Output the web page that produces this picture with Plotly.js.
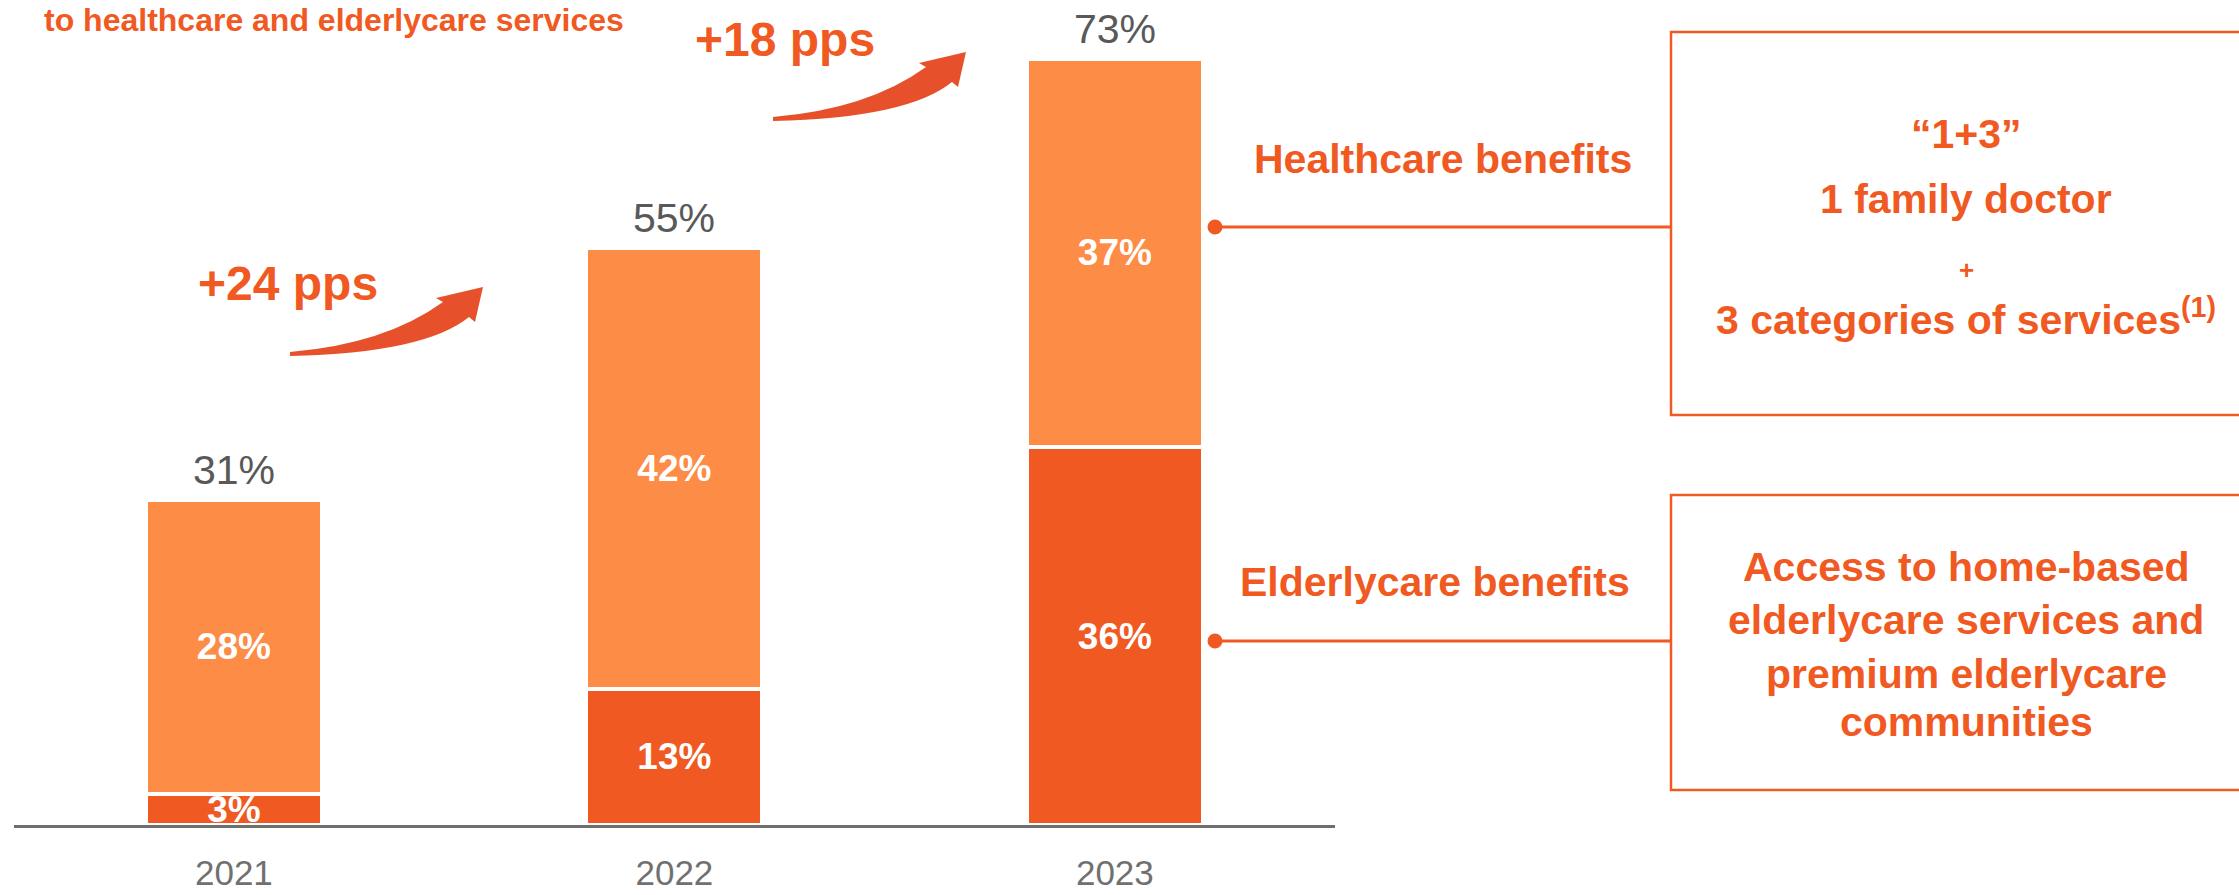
<!DOCTYPE html>
<html>
<head>
<meta charset="utf-8">
<script src="https://cdn.plot.ly/plotly-3.0.1.min.js"></script>
<style>html,body{margin:0;padding:0;background:#fff;}#chart{width:2239px;height:895px;}</style>
</head>
<body>
<div id="chart"></div>
<script>
// ---- data ----
const years = ['2021', '2022', '2023'];
const elderlycare = [3, 13, 36];   // bottom segment (dark orange)
const healthcare = [28, 42, 37];   // top segment (light orange)
const totals = [31, 55, 73];        // labels above the bars
const growthLabels = ['+24 pps', '+18 pps'];
const benefitLabels = ['Healthcare benefits', 'Elderlycare benefits'];
const healthcareBox = ['“1+3”', '1 family doctor', '+', '3 categories of services<sup>(1)</sup>'];
const elderlyBox = ['Access to home-based', 'elderlycare services and', 'premium elderlycare', 'communities'];
const headline = 'to healthcare and elderlycare services';

// ---- styling ----
const W = 2239, H = 895, PB = 825;  // plot area bottom in px
const DARK = '#F05A22', LIGHT = '#FD8C47', TXT = '#F05A22', GRAY = '#595959';
const FONT = 'Liberation Sans, Arial, sans-serif';
const px = x => x / W;
const py = y => (PB - y) / PB;

function arrowPath(tx, ty) {
  const pts = (x, y) => px(tx + x).toFixed(5) + ',' + py(ty + y).toFixed(5);
  return 'M ' + pts(0, 0) + ' Q ' + pts(95, -8) + ' ' + pts(153, -50) +
    ' L ' + pts(146, -54) + ' L ' + pts(193, -65) + ' L ' + pts(185, -30) +
    ' L ' + pts(179, -35) + ' Q ' + pts(135, 1) + ' ' + pts(0, 4) + ' Z';
}

const traces = [
  {
    type: 'bar', x: years, y: elderlycare, name: benefitLabels[1],
    marker: {color: DARK, line: {color: '#ffffff', width: 4}},
    width: 0.4,
    text: elderlycare.map(v => v + '%'), textposition: 'inside', insidetextanchor: 'middle',
    constraintext: 'none', textangle: 0,
    textfont: {family: FONT, size: 37, color: '#ffffff', weight: 'bold'},
    hoverinfo: 'skip'
  },
  {
    type: 'bar', x: years, y: healthcare, name: benefitLabels[0],
    marker: {color: LIGHT, line: {color: '#ffffff', width: 4}},
    width: 0.4,
    text: healthcare.map(v => v + '%'), textposition: 'inside', insidetextanchor: 'middle',
    constraintext: 'none', textangle: 0,
    textfont: {family: FONT, size: 37, color: '#ffffff', weight: 'bold'},
    hoverinfo: 'skip'
  }
];

const annotations = [];
// totals above the bars (category index on the x axis)
years.forEach((yr, i) => {
  annotations.push({
    x: i, y: totals[i], xref: 'x', yref: 'y', text: totals[i] + '%', showarrow: false,
    xanchor: 'center', yanchor: 'bottom', yshift: 5, font: {family: FONT, size: 41, color: GRAY}
  });
});
function txt(text, x, y, size, opts) {
  annotations.push(Object.assign({
    x: px(x), y: py(y), xref: 'paper', yref: 'paper', text: text, showarrow: false,
    xanchor: 'center', yanchor: 'middle',
    font: {family: FONT, size: size, color: TXT, weight: 'bold'}
  }, opts || {}));
}
txt(headline, 42, 0, 32, {xanchor: 'left', yanchor: 'top'});
txt(growthLabels[0], 288, 283, 48);
txt(growthLabels[1], 785, 40, 48);
txt(benefitLabels[0], 1443, 159, 41);
txt(benefitLabels[1], 1435, 582, 41);
const hbY = [134, 199, 270, 317], hbS = [41, 41, 26, 41];
healthcareBox.forEach((t, i) => txt(t, 1966, hbY[i], hbS[i]));
const ebY = [567, 620, 674, 722];
elderlyBox.forEach((t, i) => txt(t, 1966, ebY[i], 41));

const shapes = [
  // baseline
  {type: 'line', xref: 'paper', yref: 'paper', x0: px(14), x1: px(1335), y0: py(826.5), y1: py(826.5),
   line: {color: '#6E6E6E', width: 3}},
  // boxes
  {type: 'rect', xref: 'paper', yref: 'paper', x0: px(1671), x1: px(2260), y0: py(32), y1: py(415),
   line: {color: TXT, width: 2.5}},
  {type: 'rect', xref: 'paper', yref: 'paper', x0: px(1671), x1: px(2260), y0: py(495), y1: py(790),
   line: {color: TXT, width: 2.5}},
  // connectors
  {type: 'line', xref: 'paper', yref: 'paper', x0: px(1215), x1: px(1671), y0: py(227), y1: py(227),
   line: {color: TXT, width: 3}},
  {type: 'circle', xref: 'paper', yref: 'paper', x0: px(1207.5), x1: px(1222.5), y0: py(219.5), y1: py(234.5),
   fillcolor: TXT, line: {width: 0}},
  {type: 'line', xref: 'paper', yref: 'paper', x0: px(1215), x1: px(1671), y0: py(641), y1: py(641),
   line: {color: TXT, width: 3}},
  {type: 'circle', xref: 'paper', yref: 'paper', x0: px(1207.5), x1: px(1222.5), y0: py(633.5), y1: py(648.5),
   fillcolor: TXT, line: {width: 0}},
  // growth arrows
  {type: 'path', xref: 'paper', yref: 'paper', path: arrowPath(290, 352), fillcolor: '#E6512B', line: {width: 0}},
  {type: 'path', xref: 'paper', yref: 'paper', path: arrowPath(773, 117), fillcolor: '#E6512B', line: {width: 0}}
];

const layout = {
  width: W, height: H,
  margin: {l: 0, r: 0, t: 0, b: H - PB, autoexpand: false},
  paper_bgcolor: '#ffffff', plot_bgcolor: '#ffffff',
  barmode: 'stack', bargap: 0,
  showlegend: false,
  xaxis: {
    type: 'category', range: [-0.531, 4.552], showgrid: false, zeroline: false, showline: false,
    ticks: '', ticklabelstandoff: 24, automargin: false,
    tickfont: {family: FONT, size: 35, color: '#707070'}, fixedrange: true
  },
  yaxis: {
    range: [0, PB / 10.5], visible: false, showgrid: false, zeroline: false, fixedrange: true
  },
  annotations: annotations,
  shapes: shapes,
  font: {family: FONT}
};

Plotly.newPlot('chart', traces, layout, {displayModeBar: false, staticPlot: true});
</script>
</body>
</html>
